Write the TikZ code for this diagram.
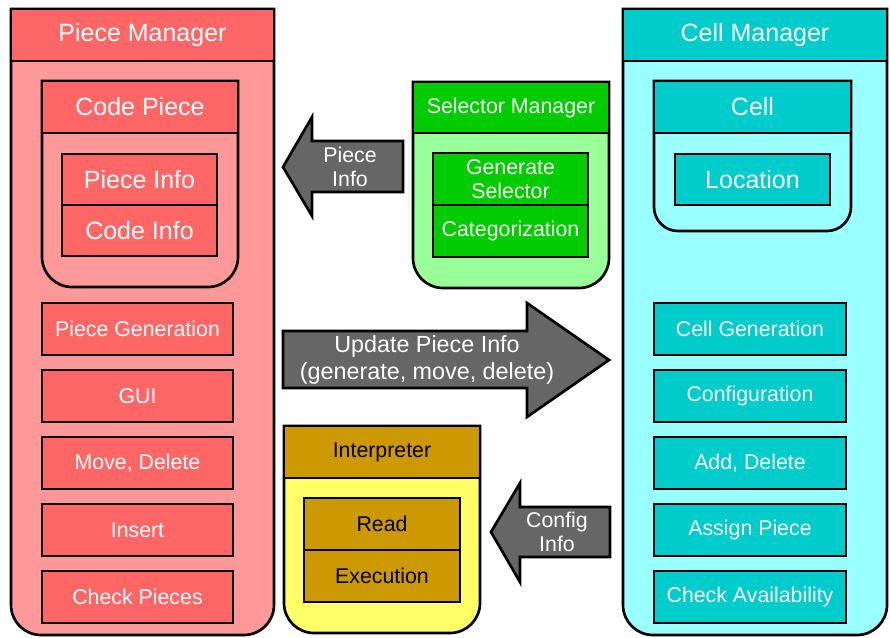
\documentclass[tikz,border=0pt]{standalone}
\usepackage{fontspec}
\setmainfont{Liberation Sans}

\definecolor{pmHead}{HTML}{FF6666}
\definecolor{pmBody}{HTML}{FF9999}
\definecolor{cmHead}{HTML}{00CCCC}
\definecolor{cmBody}{HTML}{99FFFF}
\definecolor{smHead}{HTML}{00CC00}
\definecolor{smBody}{HTML}{99FF99}
\definecolor{inHead}{HTML}{CC9900}
\definecolor{inBody}{HTML}{FFFF66}
\definecolor{flowGray}{HTML}{666666}

% body of a module: square top, rounded bottom corners
% #1 fill, #2 left, #3 right, #4 top, #5 bottom, #6 radius
\newcommand\shellpath[6]{%
  \filldraw[shell, fill=#1] (#2,#4) -- (#2,#5+#6)
    arc[start angle=180, end angle=270, radius=#6] -- (#3-#6,#5)
    arc[start angle=270, end angle=360, radius=#6] -- (#3,#4) -- cycle;}

% rectangular labelled box spanning left/right/top/bottom
% #1 options, #2 name, #3 left, #4 right, #5 top, #6 bottom, #7 text
\newcommand\spanbox[7][]{%
  \node[box, #1, minimum width={(#4-#3)*0.75pt}, minimum height={(#5-#6)*0.75pt}]
    (#2) at ({(#3+#4)/2},{(#5+#6)/2}) {#7};}

\tikzset{
  shell/.style={draw=black, line width=2pt},
  box/.style={draw=black, line width=2pt, inner sep=0pt, align=center,
    text=white, font=\fontsize{16}{18}\selectfont},
  big/.style={font=\fontsize{18.75}{22}\selectfont},
  flowarrow/.style={shell, fill=flowGray},
  flowlabel/.style={align=center, text=white, inner sep=0pt,
    font=\fontsize{16}{17.5}\selectfont},
}

\begin{document}
\begin{tikzpicture}[x=0.75pt, y=0.75pt]
\useasboundingbox (0,0) rectangle (890,637);

% ---------------- Piece Manager ----------------
\shellpath{pmBody}{11}{274}{628}{2}{30}
\spanbox[big, fill=pmHead]{pm}{11}{274}{628}{576}{Piece Manager}
\shellpath{pmBody}{42}{238}{556}{350}{30}
\spanbox[big, fill=pmHead]{codePiece}{42}{238}{556}{504}{Code Piece}
\spanbox[big, fill=pmHead]{pieceInfo}{62}{217}{483}{432}{Piece Info}
\spanbox[big, fill=pmHead]{codeInfo}{62}{217}{432}{381}{Code Info}
\spanbox[fill=pmHead]{pieceGen}{42}{233}{334}{282}{Piece Generation}
\spanbox[fill=pmHead]{gui}{42}{233}{267}{215}{GUI}
\spanbox[fill=pmHead]{moveDel}{42}{233}{200}{148}{Move, Delete}
\spanbox[fill=pmHead]{insert}{42}{233}{133}{81}{Insert}
\spanbox[fill=pmHead]{checkPieces}{42}{233}{66}{14}{Check Pieces}

% ---------------- Cell Manager ----------------
\shellpath{cmBody}{623}{887}{628}{2}{30}
\spanbox[big, fill=cmHead]{cm}{623}{887}{628}{576}{Cell Manager}
\shellpath{cmBody}{654}{851}{556}{406}{24}
\spanbox[big, fill=cmHead]{cell}{654}{851}{556}{504}{Cell}
\spanbox[big, fill=cmHead]{location}{675}{830}{483}{432}{Location}
\spanbox[fill=cmHead]{cellGen}{654}{846}{334}{282}{Cell Generation}
\spanbox[fill=cmHead]{config}{654}{846}{267}{215}{Configuration}
\spanbox[fill=cmHead]{addDel}{654}{846}{200}{148}{Add, Delete}
\spanbox[fill=cmHead]{assign}{654}{846}{133}{81}{Assign Piece}
\spanbox[fill=cmHead]{checkAvail}{654}{846}{66}{14}{Check Availability}

% ---------------- Selector Manager ----------------
\shellpath{smBody}{413}{609}{555}{349}{30}
\spanbox[fill=smHead]{sm}{413}{609}{555}{504}{Selector Manager}
\spanbox[fill=smHead]{genSel}{433}{588}{484}{432}{Generate\\Selector}
\spanbox[fill=smHead]{categ}{433}{588}{432}{380}{Categorization}

% ---------------- Interpreter ----------------
\shellpath{inBody}{284}{480}{211}{4}{30}
\spanbox[text=black, fill=inHead]{interp}{284}{480}{211}{159}{Interpreter}
\spanbox[text=black, fill=inHead]{read}{304}{460}{139}{87}{Read}
\spanbox[text=black, fill=inHead]{exec}{304}{460}{87}{35}{Execution}

% ---------------- flow arrows ----------------
\filldraw[flowarrow] (283,470) -- (312,520) -- (312,496) -- (403,496)
  -- (403,445) -- (312,445) -- (312,421) -- cycle;
\node[flowlabel] (pieceInfoLbl) at (350,470) {Piece\\Info};

\filldraw[flowarrow] (283,306) -- (527,306) -- (527,334) -- (609,277)
  -- (527,220) -- (527,249) -- (283,249) -- cycle;
\node[flowlabel, font=\fontsize{17.5}{20}\selectfont] (updateLbl) at (427,277)
  {Update Piece Info\\(generate, move, delete)};

\filldraw[flowarrow] (491,105) -- (520,154) -- (520,130) -- (610,130)
  -- (610,80) -- (520,80) -- (520,55) -- cycle;
\node[flowlabel] (configLbl) at (557,105) {Config\\Info};
\end{tikzpicture}
\end{document}
